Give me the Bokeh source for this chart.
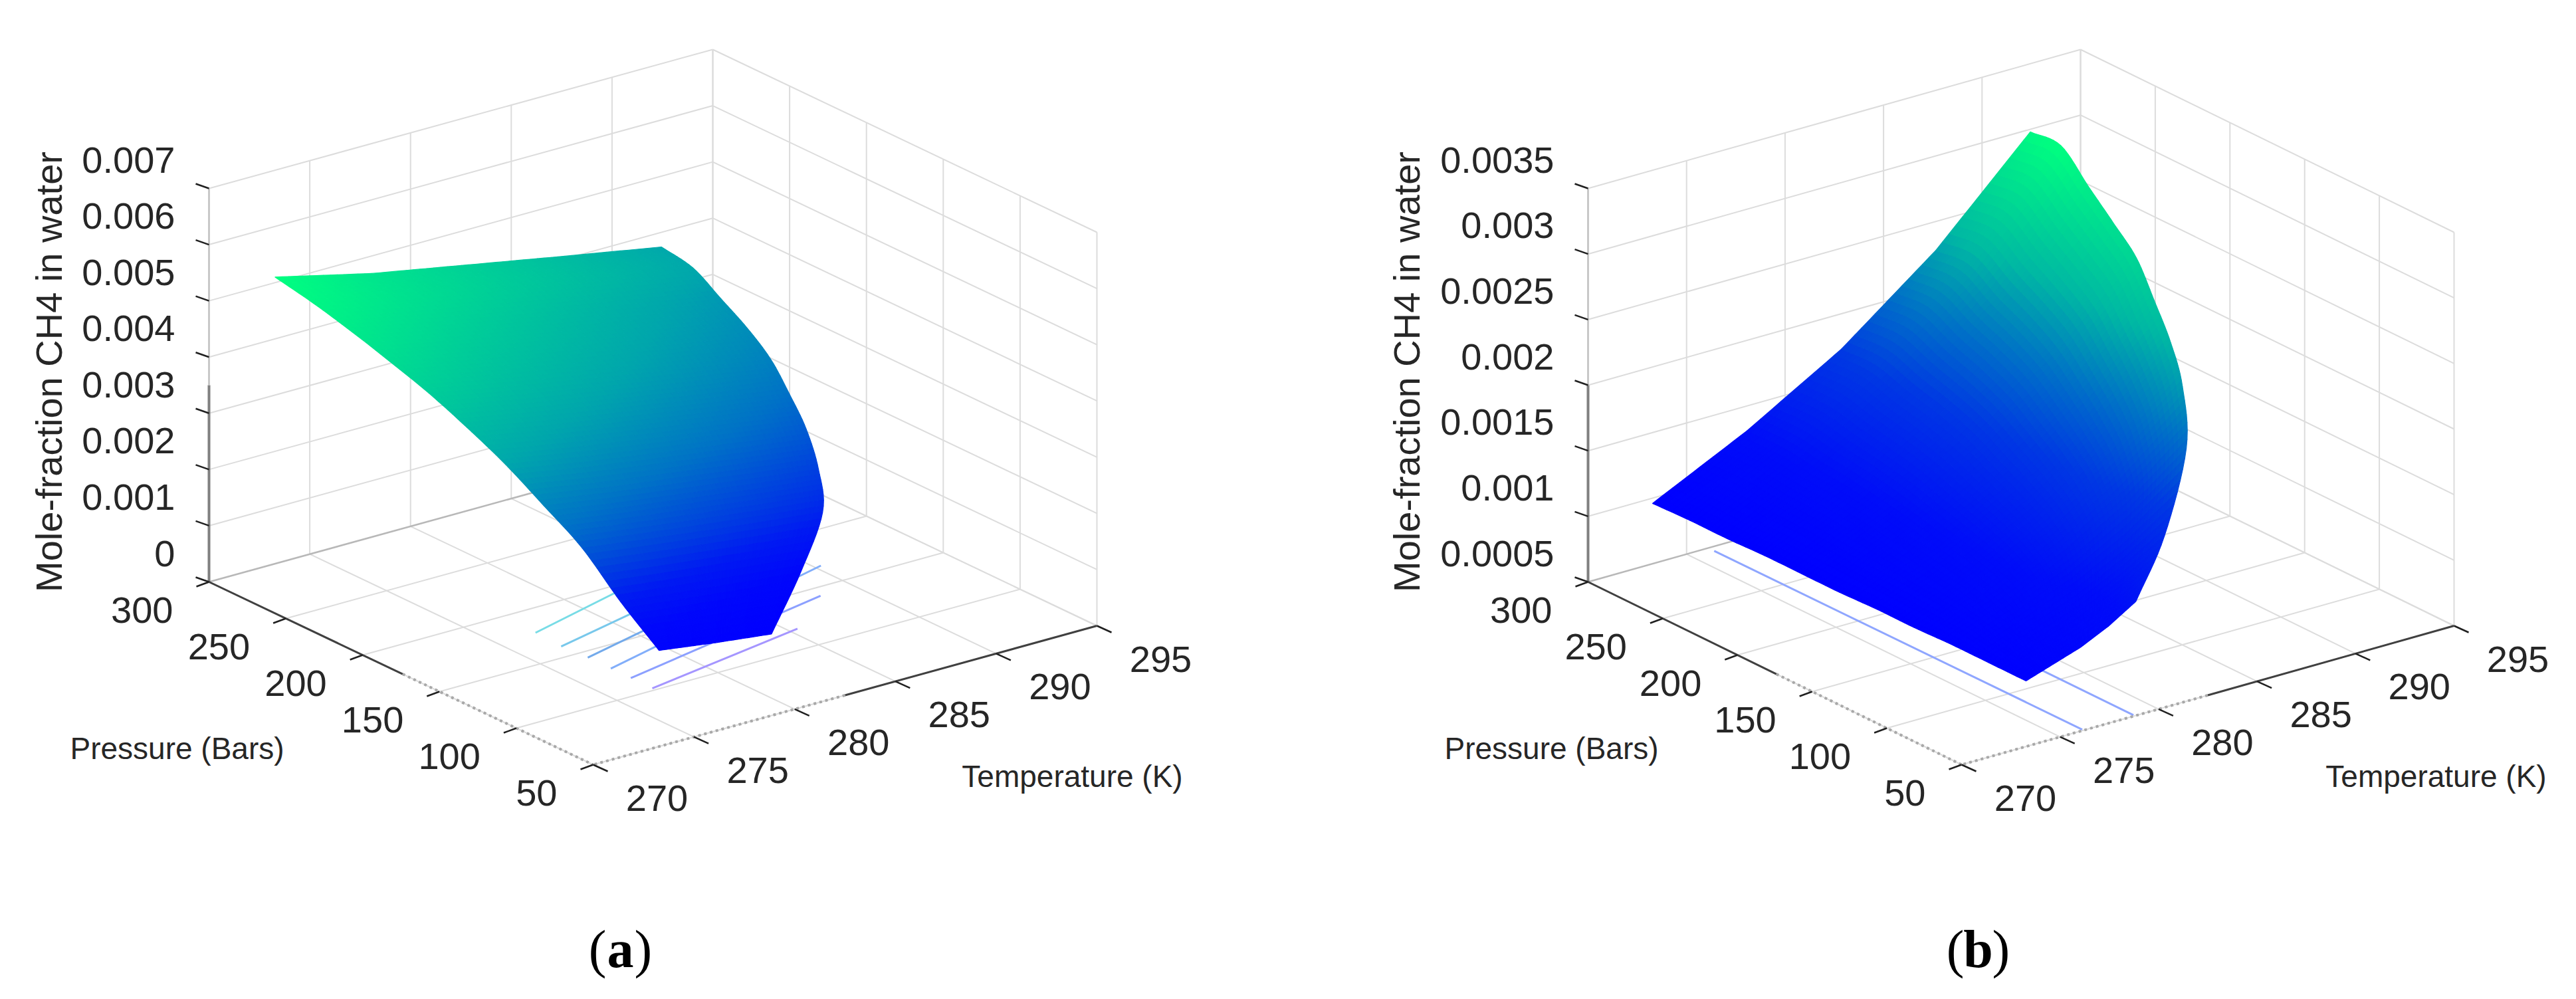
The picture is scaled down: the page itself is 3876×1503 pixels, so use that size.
import math
from bokeh.core.properties import value
from bokeh.plotting import figure
from bokeh.embed import file_html
from bokeh.resources import INLINE

# ---------- values ----------
PRESSURE_TICKS = [300, 250, 200, 150, 100, 50]
TEMPERATURE_TICKS = [270, 275, 280, 285, 290, 295]
Z_TICKS_A = [0, 0.001, 0.002, 0.003, 0.004, 0.005, 0.006, 0.007]
Z_TICKS_B = [0.0005, 0.001, 0.0015, 0.002, 0.0025, 0.003, 0.0035]
Z_LABELS_A = ["0", "0.001", "0.002", "0.003", "0.004", "0.005", "0.006", "0.007"]
Z_LABELS_B = ["0.0005", "0.001", "0.0015", "0.002", "0.0025", "0.003", "0.0035"]

SURF_PRESSURE = [300, 275, 250, 225, 200, 175, 150, 125, 100, 75, 50]
T_LOW = 273.27
T_EQUILIBRIUM = [292.45, 292.1, 291.6, 291.0, 290.25, 289.25, 288.2, 286.9, 285.2, 282.2, 278.85]

# mole fraction at five evenly spaced temperatures between T_LOW and T_EQUILIBRIUM
Z_SURFACE_A = [
    [0.00510, 0.00469, 0.00437, 0.00405, 0.00374],
    [0.00496, 0.00462, 0.00431, 0.00401, 0.00373],
    [0.00478, 0.00444, 0.00413, 0.00383, 0.00355],
    [0.00457, 0.00425, 0.00396, 0.00368, 0.00341],
    [0.00434, 0.00404, 0.00377, 0.00351, 0.00326],
    [0.00405, 0.00378, 0.00354, 0.00330, 0.00308],
    [0.00372, 0.00348, 0.00327, 0.00307, 0.00287],
    [0.00331, 0.00311, 0.00294, 0.00277, 0.00261],
    [0.00288, 0.00273, 0.00259, 0.00246, 0.00234],
    [0.00225, 0.00215, 0.00206, 0.00197, 0.00189],
    [0.00171, 0.00164, 0.00157, 0.00151, 0.00145],
]
Z_SURFACE_B = [
    [0.00096, 0.00131, 0.00173, 0.00228, 0.00298],
    [0.00097, 0.00133, 0.00176, 0.00233, 0.00303],
    [0.00097, 0.00131, 0.00171, 0.00223, 0.00288],
    [0.00098, 0.00130, 0.00168, 0.00217, 0.00276],
    [0.00098, 0.00128, 0.00164, 0.00210, 0.00267],
    [0.00098, 0.00126, 0.00158, 0.00201, 0.00253],
    [0.00099, 0.00124, 0.00153, 0.00191, 0.00239],
    [0.00099, 0.00122, 0.00148, 0.00182, 0.00225],
    [0.00100, 0.00118, 0.00139, 0.00165, 0.00199],
    [0.00100, 0.00111, 0.00123, 0.00139, 0.00159],
    [0.00100, 0.00107, 0.00114, 0.00124, 0.00137],
]

# how far along the blue-to-green scale each mole fraction sits
SHADE_Z_A = [0.00145, 0.0019, 0.00225, 0.0031, 0.0037, 0.0051]
SHADE_F_A = [0.0, 0.03, 0.10, 0.45, 0.65, 1.0]
SHADE_Z_B = [0.00096, 0.0013, 0.00172, 0.00205, 0.0024, 0.00303]
SHADE_F_B = [0.0, 0.05, 0.22, 0.45, 0.72, 1.0]

# floor contours: (T start, P start, T end, P end)
CONTOURS_A = [
    (276.9, 102, 285.4, 119),
    (276.9, 116, 288.3, 142),
    (276.9, 129, 290.3, 168),
    (276.9, 144, 285.0, 167),
    (276.8, 160, 285.0, 182),
    (276.9, 178, 282.5, 195),
]
CONTOURS_B = [
    (276.1, 296, 276.2, 51),
    (278.8, 296, 278.8, 51),
]

# ---------- styling / layout ----------
W, H = 3860, 1487
ORIGIN = 0
TEXT = "#262626"
GRID = "#dcdcdc"
BACK = "#b8b8b8"
AX = "#404040"
ZAX = "#808080"
DOT = "#a8a8a8"
TICK_FS = "56px"
TITLE_FS = "46px"
Y_FS = "56px"
FONT = value("Liberation Sans")
COLORS_A = ["#a596ff", "#8ca0ff", "#82aefa", "#73aaeb", "#78c8eb", "#78dce6"]
COLORS_B = ["#8fa6ff", "#8fa6ff"]

p = figure(width=W, height=H, x_range=(ORIGIN, ORIGIN + W), y_range=(ORIGIN + H, ORIGIN),
           output_backend="svg", toolbar_location=None, min_border=0)
p.axis.visible = False
p.grid.visible = False
p.outline_line_color = None
p.background_fill_color = "white"
p.border_fill_color = "white"


def spline(seq, i, t):
    """Smooth shading between table rows i and i+1."""
    b = seq[i]
    c = seq[i + 1]
    a = seq[i - 1] if i > 0 else 2 * b - c
    d = seq[i + 2] if i + 2 < len(seq) else 2 * c - b
    return 0.5 * (2 * b + (c - a) * t + (2 * a - 5 * b + 4 * c - d) * t * t + (3 * b - a - 3 * c + d) * t ** 3)


def shade(z, zs, fs):
    if z <= zs[0]:
        return fs[0]
    for k in range(len(zs) - 1):
        if z <= zs[k + 1]:
            return fs[k] + (fs[k + 1] - fs[k]) * (z - zs[k]) / (zs[k + 1] - zs[k])
    return fs[-1]


def panel(L, F, R, zh, zticks, zlabels, zsurf, shade_z, shade_f, contours, contour_colors, ytitle_x, ptitle_x, ttitle_x):
    z0, z1 = zticks[0], zticks[-1]

    def proj(T, P, z):
        u = (300 - P) / 250
        v = (T - 270) / 25
        x = L[0] + u * (F[0] - L[0]) + v * (R[0] - F[0])
        y = L[1] + u * (F[1] - L[1]) + v * (R[1] - F[1]) - zh * (z - z0) / (z1 - z0)
        return x, y

    def seg(a, b):
        return [a[0], b[0]], [a[1], b[1]]

    def lines(segs, color, width):
        p.multi_line([s[0] for s in segs], [s[1] for s in segs],
                     line_color=color, line_width=width)

    tlo, thi = TEMPERATURE_TICKS[0], TEMPERATURE_TICKS[-1]
    phi, plo = PRESSURE_TICKS[0], PRESSURE_TICKS[-1]
    grid = []
    for P in PRESSURE_TICKS:
        if P != phi:
            grid.append(seg(proj(tlo, P, z0), proj(thi, P, z0)))
        grid.append(seg(proj(thi, P, z0), proj(thi, P, z1)))
    for T in TEMPERATURE_TICKS:
        grid.append(seg(proj(T, phi, z0), proj(T, plo, z0)))
        grid.append(seg(proj(T, phi, z0), proj(T, phi, z1)))
    for z in zticks:
        if z != z0:
            grid.append(seg(proj(tlo, phi, z), proj(thi, phi, z)))
        grid.append(seg(proj(thi, phi, z), proj(thi, plo, z)))
    lines(grid, GRID, 2)
    lines([seg(proj(tlo, phi, z0), proj(thi, phi, z0))], BACK, 2.5)

    # floor contours
    for (t0, p0, t1, p1), c in zip(contours, contour_colors):
        a, b = proj(t0, p0, z0), proj(t1, p1, z0)
        p.line([a[0], b[0]], [a[1], b[1]], line_color=c, line_width=3)

    # smooth shading of the surface, as in the original render
    xs, ys, cs = [], [], []
    nr, nc = 8, 14

    def at(ri, s):
        i = min(int(ri), len(SURF_PRESSURE) - 2)
        fr = ri - i
        P = SURF_PRESSURE[i] + fr * (SURF_PRESSURE[i + 1] - SURF_PRESSURE[i])
        Te = spline(T_EQUILIBRIUM, i, fr)
        T = T_LOW + s * (Te - T_LOW)
        cc = s * 4
        j = min(int(cc), 3)
        fc = cc - j
        column_a = [row[j] for row in zsurf]
        column_b = [row[j + 1] for row in zsurf]
        za = spline(column_a, i, fr)
        zb = spline(column_b, i, fr)
        z = za + fc * (zb - za)
        return proj(T, P, z), z

    rows = (len(SURF_PRESSURE) - 1) * nr
    cols = 4 * nc
    for a in range(rows):
        for b in range(cols):
            r0, r1 = a / nr, (a + 1) / nr
            s0, s1 = b / cols, (b + 1) / cols
            q = [at(r0, s0), at(r0, s1), at(r1, s1), at(r1, s0)]
            xs.append([c[0][0] for c in q])
            ys.append([c[0][1] for c in q])
            zm = sum(c[1] for c in q) / 4
            f = shade(zm, shade_z, shade_f)
            cs.append("#%02x%02x%02x" % (0, round(255 * f), round(255 - 127 * f)))
    p.patches(xs, ys, fill_color=cs, line_color=cs, line_width=1.2)

    # axes
    zsplit = z0 + 0.5 * (z1 - z0)
    lines([seg(proj(tlo, phi, z0), proj(tlo, phi, zsplit))], ZAX, 4)
    lines([seg(proj(tlo, phi, zsplit), proj(tlo, phi, z1))], "#c8c8c8", 3)
    psplit, tsplit = 174, 282.5
    lines([seg(proj(tlo, phi, z0), proj(tlo, psplit, z0)),
           seg(proj(thi, plo, z0), proj(tsplit, plo, z0))], AX, 3)
    for a, b in [(proj(tlo, psplit, z0), proj(tlo, plo, z0)), (proj(tsplit, plo, z0), proj(tlo, plo, z0))]:
        p.line([a[0], b[0]], [a[1], b[1]], line_color=DOT, line_width=4, line_dash=[4, 5])

    ticks = []
    for z in zticks:
        a = proj(tlo, phi, z)
        ticks.append(seg(a, (a[0] - 20, a[1] - 7)))
    for P in PRESSURE_TICKS:
        a = proj(tlo, P, z0)
        ticks.append(seg(a, (a[0] - 19, a[1] + 7)))
    for T in TEMPERATURE_TICKS:
        a = proj(T, plo, z0)
        ticks.append(seg(a, (a[0] + 22, a[1] + 10)))
    lines(ticks, "#202020", 2.5)

    # labels
    zpos = [proj(tlo, phi, z) for z in zticks]
    p.text([q[0] - 51 for q in zpos], [q[1] - 43 for q in zpos], text=zlabels,
           text_font=FONT, text_font_size=TICK_FS, text_color=TEXT,
           text_align="right", text_baseline="middle")
    ppos = [proj(tlo, P, z0) for P in PRESSURE_TICKS]
    p.text([q[0] - 54 for q in ppos], [q[1] + 42 for q in ppos], text=[str(v) for v in PRESSURE_TICKS],
           text_font=FONT, text_font_size=TICK_FS, text_color=TEXT,
           text_align="right", text_baseline="middle")
    tpos = [proj(T, plo, z0) for T in TEMPERATURE_TICKS]
    p.text([q[0] + 96 for q in tpos], [q[1] + 50 for q in tpos], text=[str(v) for v in TEMPERATURE_TICKS],
           text_font=FONT, text_font_size=TICK_FS, text_color=TEXT,
           text_align="center", text_baseline="middle")
    p.text([ptitle_x], [1125], text=["Pressure (Bars)"], text_font=FONT, text_font_size=TITLE_FS,
           text_color=TEXT, text_align="center", text_baseline="middle")
    p.text([ttitle_x], [1167], text=["Temperature (K)"], text_font=FONT, text_font_size=TITLE_FS,
           text_color=TEXT, text_align="center", text_baseline="middle")
    p.text([ytitle_x], [559], text=["Mole-fraction CH4 in water"], text_font=FONT, text_font_size=Y_FS,
           text_color=TEXT, text_align="center", text_baseline="middle", angle=math.pi / 2)


def caption(x, letter):
    y = 1427
    kw = dict(text_font=value("Liberation Serif"), text_font_size="80px", text_color="#000000", text_baseline="middle")
    p.text([x - 21], [y], text=["("], text_align="right", **kw)
    p.text([x], [y], text=[letter], text_align="center", text_font_style="bold", **kw)
    p.text([x + 21], [y], text=[")"], text_align="left", **kw)


panel((314, 875), (892, 1150), (1650, 941), 592, Z_TICKS_A, Z_LABELS_A, Z_SURFACE_A, SHADE_Z_A, SHADE_F_A,
      CONTOURS_A, COLORS_A, 73, 266, 1613)
panel((2389, 875), (2951, 1150), (3692, 941), 592, Z_TICKS_B, Z_LABELS_B, Z_SURFACE_B, SHADE_Z_B, SHADE_F_B,
      CONTOURS_B, COLORS_B, 2116, 2334, 3665)
caption(933, "a")
caption(2976, "b")

open("out.html", "w").write(file_html(p, INLINE))
